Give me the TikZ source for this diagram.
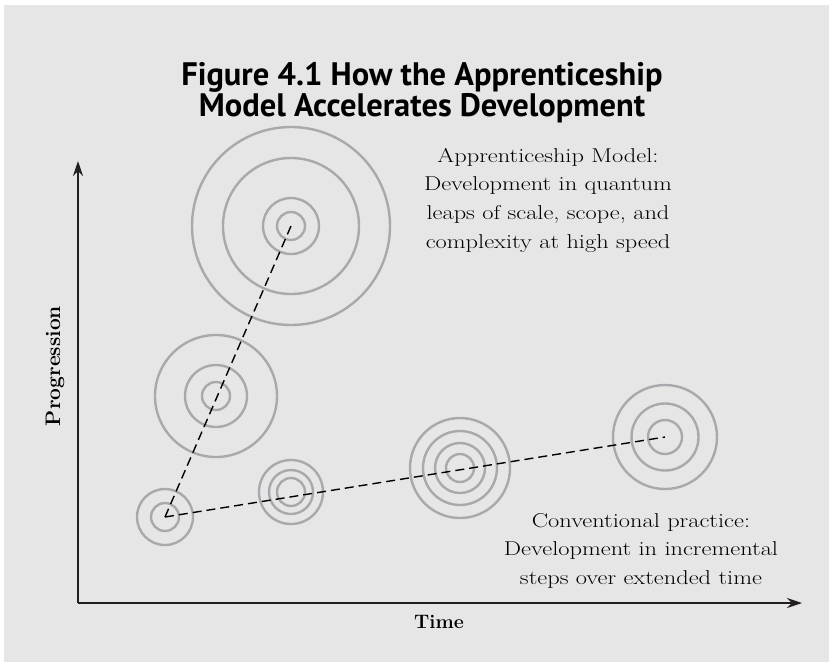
\documentclass[tikz,border=0pt]{standalone}
\usepackage{fontspec}
\usetikzlibrary{arrows.meta}
\newfontfamily\titlefont{PT Sans}
\definecolor{panel}{HTML}{E6E6E6}
\definecolor{ringgray}{HTML}{A7A9AC}
\definecolor{axisdark}{HTML}{231F20}
\tikzset{
  ring/.style={draw=ringgray, line width=2.4pt},
  trend/.style={draw=black, line width=1.4pt, dash pattern=on 9pt off 5pt},
  axis/.style={draw=axisdark, line width=2pt, -{Stealth[length=15pt,width=10pt]}},
  caption/.style={align=center, inner sep=0pt, xscale=1.22, transform shape,
                  font=\fontsize{20}{28.6}\selectfont},
  axislabel/.style={inner sep=0pt, font=\bfseries\fontsize{#1}{#1}\selectfont},
}
\begin{document}
\begin{tikzpicture}[x=1pt,y=-1pt]
  % page and panel
  \useasboundingbox (0,0) rectangle (829,662);
  \fill[white] (0,0) rectangle (829,662);
  \fill[panel] (4,5) rectangle (829,662);

  % title
  \node[anchor=north, align=center, inner sep=0pt,
        font=\titlefont\bfseries\fontsize{32.5}{29.5}\selectfont] (title) at (422,62)
    {Figure 4.1 How the Apprenticeship\\Model Accelerates Development};

  % axes
  \coordinate (origin) at (78,603);
  \coordinate (ytop) at (78,161);
  \coordinate (xend) at (802,603);
  \draw[axis] (origin) -- (ytop);
  \draw[axis] (origin) -- (xend);
  \node[axislabel=21, rotate=90] (ylab) at (55,366) {Progression};
  \node[axislabel=19.5, anchor=base] (xlab) at (439,628) {Time};

  % centres of the ring groups
  \coordinate (c1) at (165,517);
  \coordinate (c2) at (291,492);
  \coordinate (c3) at (460,468);
  \coordinate (c4) at (665,437);
  \coordinate (c5) at (216,396);
  \coordinate (c6) at (291,226);

  % ring groups
  \foreach \r in {14,28} \draw[ring] (c1) circle[radius=\r pt];
  \foreach \r in {14,22,32} \draw[ring] (c2) circle[radius=\r pt];
  \foreach \r in {14,25,37,50} \draw[ring] (c3) circle[radius=\r pt];
  \foreach \r in {17,33.5,52} \draw[ring] (c4) circle[radius=\r pt];
  \foreach \r in {14,31,61} \draw[ring] (c5) circle[radius=\r pt];
  \foreach \r in {14,28,68,99} \draw[ring] (c6) circle[radius=\r pt];

  % growth paths
  \draw[trend] (c1) -- (c6);
  \draw[trend] (c1) -- (c4);

  % captions
  \node[caption, anchor=north] (apprentice) at (548,148)
    {Apprenticeship Model:\\Development in quantum\\leaps of scale, scope, and\\complexity at high speed};
  \node[caption, anchor=north] (conventional) at (641,513)
    {Conventional practice:\\Development in incremental\\steps over extended time};
\end{tikzpicture}
\end{document}
